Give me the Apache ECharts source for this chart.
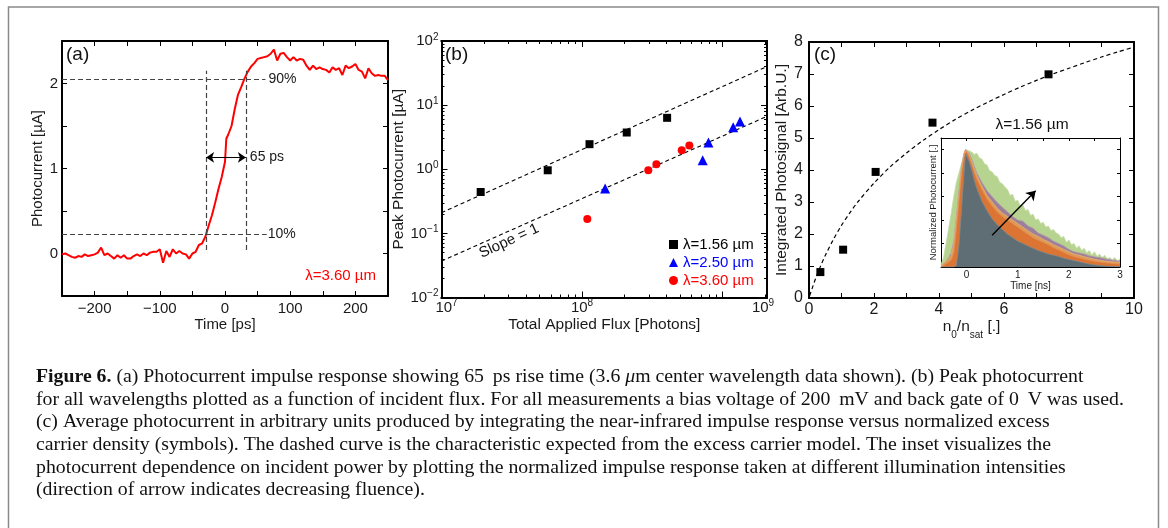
<!DOCTYPE html>
<html><head><meta charset="utf-8">
<script src="https://cdn.jsdelivr.net/npm/echarts@6/dist/echarts.min.js"></script>
<style>html,body{margin:0;padding:0;background:#fff}#c{width:1168px;height:528px}</style>
</head><body><div id="c"></div>
<script>
// ---------- Panel (a): impulse response ----------
const timeA = [-250,-245,-240,-235,-230,-225,-220,-215,-210,-205,-200,-195,-190,-185,-180,-175,-170,-165,-160,-155,-150,-145,-140,-135,-130,-125,-120,-115,-110,-105,-100,-95,-90,-85,-80,-75,-70,-65,-60,-55,-50,-45,-40,-35,-30,-25,-20,-15,-10,-5,0,2,5,10,15,20,25,30,35,40,45,50,55,60,65,70,75,80,85,90,95,100,105,110,115,120,125,130,135,140,145,150,155,160,165,170,175,180,185,190,195,200,205,210,215,220,225,230,235,240,245,250];
const currentA = [-0.01,0.0,-0.02,-0.04,-0.05,-0.03,-0.04,-0.01,-0.03,-0.02,-0.01,0.01,0.07,-0.02,0.0,-0.03,-0.06,-0.02,-0.05,-0.02,-0.06,-0.06,-0.03,-0.01,-0.03,0.0,-0.02,0.01,0.02,0.02,0.05,-0.11,0.03,-0.04,0.05,0.0,0.03,0.0,-0.01,-0.06,0.0,0.02,0.1,0.12,0.2,0.33,0.45,0.6,0.76,0.9,1.08,1.35,1.4,1.5,1.7,1.87,1.96,2.06,2.14,2.2,2.24,2.29,2.3,2.31,2.32,2.35,2.4,2.27,2.35,2.36,2.31,2.27,2.31,2.27,2.29,2.28,2.21,2.16,2.21,2.17,2.19,2.17,2.16,2.13,2.19,2.16,2.18,2.1,2.21,2.18,2.2,2.23,2.16,2.14,2.06,2.18,2.12,2.09,2.1,2.09,2.09,2.04];
const level90 = 2.05, level10 = 0.23;
const riseStart = -29, riseEnd = 32;

// ---------- Panel (b): peak photocurrent vs flux ----------
const seriesNamesB = ['λ=1.56 µm', 'λ=2.50 µm', 'λ=3.60 µm'];
const flux156 = [1.90e7, 5.70e7, 1.13e8, 2.08e8, 4.03e8];
const peak156 = [0.442, 0.964, 2.46, 3.74, 6.34];
const flux250 = [1.46e8, 7.22e8, 7.93e8, 1.19e9, 1.33e9];
const peak250 = [0.499, 1.38, 2.61, 4.53, 5.56];
const flux360 = [1.09e8, 2.96e8, 3.38e8, 5.12e8, 5.80e8];
const peak360 = [0.167, 0.964, 1.20, 1.98, 2.35];
const fitX = [1e7, 2.07e9];
const fitUpperY = [0.21, 40];
const fitLowerY = [0.037, 6.7];
const fluxMin = 1e7, fluxMax = 2.07e9;
const fluxMajor = [1e7, 1e8, 1e9];
const fluxMinor = [2e7,3e7,4e7,5e7,6e7,7e7,8e7,9e7,2e8,3e8,4e8,5e8,6e8,7e8,8e8,9e8,2e9];
const fluxLabels = [1e7, 1e8, 2.07e9];
const peakMajor = [0.01, 0.1, 1, 10, 100];
const peakMinor = [0.02,0.03,0.04,0.05,0.06,0.07,0.08,0.09,0.2,0.3,0.4,0.5,0.6,0.7,0.8,0.9,2,3,4,5,6,7,8,9,20,30,40,50,60,70,80,90];

// ---------- Panel (c): integrated photosignal ----------
const nRatio = [0.35, 1.05, 2.05, 3.80, 7.37];
const signalC = [0.81, 1.51, 3.94, 5.48, 6.99];
const modelX = [0.02,0.1,0.2,0.35,0.5,0.75,1,1.25,1.5,2,2.5,3,3.5,4,4.5,5,5.5,6,6.5,7,7.5,8,8.5,9,9.5,10];
const modelY = [0.07,0.31,0.6,0.98,1.33,1.83,2.27,2.65,3.0,3.59,4.1,4.53,4.92,5.26,5.58,5.86,6.12,6.36,6.59,6.8,7.0,7.18,7.36,7.53,7.69,7.84];

// ---------- Inset: normalized impulse responses ----------
const tInset = [-0.5,-0.45,-0.4,-0.35,-0.3,-0.25,-0.2,-0.15,-0.1,-0.05,-0.02,0,0.05,0.1,0.15,0.2,0.3,0.4,0.5,0.6,0.7,0.8,0.9,1.0,1.1,1.2,1.3,1.4,1.5,1.6,1.7,1.8,1.9,2.0,2.1,2.2,2.3,2.4,2.5,2.6,2.7,2.8,2.9,3.0];
const respGray   = [0,0,0,0,0,0,0.01,0.18,0.48,0.8,0.97,0.98,0.9,0.83,0.74,0.67,0.56,0.48,0.41,0.36,0.32,0.28,0.25,0.22,0.2,0.18,0.16,0.14,0.125,0.11,0.1,0.09,0.075,0.065,0.055,0.045,0.035,0.025,0.018,0.012,0.008,0.006,0.004,0.003];
const respOrange = [0,0.01,0.03,0.04,0.06,0.12,0.32,0.56,0.8,0.95,1.0,0.99,0.94,0.88,0.81,0.75,0.66,0.58,0.52,0.47,0.43,0.40,0.37,0.34,0.31,0.28,0.25,0.23,0.21,0.19,0.165,0.145,0.125,0.105,0.09,0.078,0.067,0.058,0.05,0.043,0.037,0.032,0.028,0.025];
const respTan    = [0.01,0.03,0.05,0.07,0.1,0.2,0.4,0.62,0.84,0.97,1.0,1.0,0.96,0.9,0.84,0.78,0.69,0.61,0.555,0.5,0.46,0.43,0.4,0.37,0.34,0.31,0.28,0.26,0.235,0.215,0.19,0.17,0.15,0.13,0.11,0.1,0.088,0.077,0.066,0.058,0.051,0.046,0.042,0.04];
const respPurple = [0.01,0.03,0.05,0.08,0.12,0.22,0.42,0.64,0.85,0.97,1.0,1.0,0.97,0.92,0.86,0.8,0.72,0.65,0.6,0.55,0.51,0.47,0.43,0.4,0.39,0.35,0.33,0.29,0.27,0.25,0.22,0.2,0.18,0.15,0.13,0.12,0.11,0.095,0.086,0.08,0.07,0.062,0.057,0.05];
const tGreen = [-0.5,-0.45,-0.4,-0.35,-0.3,-0.25,-0.2,-0.15,-0.1,-0.05,0,0.05,0.1,0.15,0.2,0.25,0.3,0.35,0.4,0.45,0.5,0.55,0.6,0.65,0.7,0.75,0.8,0.85,0.9,0.95,1.0,1.05,1.1,1.15,1.2,1.25,1.3,1.35,1.4,1.45,1.5,1.55,1.6,1.65,1.7,1.75,1.8,1.85,1.9,1.95,2.0,2.05,2.1,2.15,2.2,2.25,2.3,2.35,2.4,2.45,2.5,2.55,2.6,2.65,2.7,2.75,2.8,2.85,2.9,2.95,3.0];
const respGreen = [0.02,0.08,0.2,0.33,0.46,0.6,0.72,0.8,0.88,0.95,1.0,0.99,0.98,0.96,0.97,0.93,0.92,0.88,0.87,0.82,0.81,0.78,0.77,0.72,0.71,0.68,0.66,0.61,0.62,0.56,0.57,0.52,0.53,0.48,0.49,0.44,0.45,0.4,0.41,0.37,0.38,0.34,0.35,0.31,0.32,0.29,0.28,0.25,0.26,0.21,0.23,0.19,0.2,0.16,0.18,0.14,0.16,0.12,0.14,0.1,0.13,0.09,0.11,0.08,0.1,0.07,0.08,0.06,0.08,0.05,0.07];
const arrowFrom = [0.5, 0.27], arrowTo = [1.35, 0.65];

// ---------- helpers ----------
const F = 'Liberation Sans, Arial, Helvetica, sans-serif';
const SERIF = 'Liberation Serif, Times New Roman, serif';
const zip = (a, b) => a.map((v, i) => [v, b[i]]);
const axLine = (w) => ({show: true, onZero: false, lineStyle: {color: '#000', width: w}});
const tick = (len, extra) => Object.assign({show: true, inside: true, length: len, lineStyle: {color: '#000', width: 1}}, extra || {});
const noLabel = {show: false};
const nameStyle = (fs) => ({fontSize: fs, fontFamily: F, color: '#1a1a1a'});
const minus = (v) => (v < 0 ? '\u2212' + (-v) : '' + v);
const supRich = {
  b: {fontSize: 15, fontFamily: F, color: '#1a1a1a', lineHeight: 18},
  s: {fontSize: 10, fontFamily: F, color: '#1a1a1a', verticalAlign: 'top'},
  p: {width: 10}, q: {width: 8}
};
const powLabel = (v) => { const e = Math.round(Math.log10(v)); return '{b|10}{s|' + minus(e) + '}'; };

function valAxis(grid, pos, min, max, interval, o) {
  return Object.assign({gridIndex: grid, type: 'value', position: pos, min, max, interval,
    axisLine: axLine(2), axisTick: tick(5), splitLine: {show: false}, axisLabel: noLabel}, o || {});
}
function logAxis(grid, pos, min, max, ticks, len, o) {
  return Object.assign({gridIndex: grid, type: 'log', logBase: 10, position: pos, min, max,
    axisLine: axLine(2), axisTick: tick(len, {customValues: ticks}), splitLine: {show: false},
    minorTick: {show: false}, axisLabel: noLabel}, o || {});
}

const xAxes = [
  // (a)
  valAxis(0, 'bottom', -250, 250, 50, {
    axisLabel: {show: true, fontSize: 15, fontFamily: F, color: '#1a1a1a', margin: 5,
      formatter: v => (v % 100 === 0 ? minus(v) : '')},
    name: 'Time [ps]', nameLocation: 'middle', nameGap: 20, nameTextStyle: nameStyle(15)}),
  valAxis(0, 'top', -250, 250, 50),
  // (b)
  logAxis(1, 'bottom', fluxMin, fluxMax, fluxMajor, 6, {
    axisLabel: {show: true, customValues: fluxLabels, margin: 1, rich: supRich,
      formatter: v => (v < 5e7 ? '{p|}' + powLabel(v) : v < 5e8 ? powLabel(v) : '{b|10}{s|9}{q|}')},
    name: 'Total Applied Flux [Photons]', nameLocation: 'middle', nameGap: 19, nameTextStyle: nameStyle(15.5)}),
  logAxis(1, 'bottom', fluxMin, fluxMax, fluxMinor, 3),
  logAxis(1, 'top', fluxMin, fluxMax, fluxMajor, 6),
  logAxis(1, 'top', fluxMin, fluxMax, fluxMinor, 3),
  // (c)
  valAxis(2, 'bottom', 0, 10, 1, {
    axisLabel: {show: true, fontSize: 16, fontFamily: F, color: '#1a1a1a', margin: 4,
      formatter: v => (v % 2 === 0 ? '' + v : '')},
    name: '{t|n}{s|0}{t|/n}{s|sat}{t| [.]}', nameLocation: 'middle', nameGap: 10,
    nameTextStyle: {rich: {
      t: {fontSize: 15.5, fontFamily: F, color: '#1a1a1a', lineHeight: 26, verticalAlign: 'middle'},
      s: {fontSize: 10, fontFamily: F, color: '#1a1a1a', verticalAlign: 'bottom'}}}}),
  valAxis(2, 'top', 0, 10, 1),
  // inset
  valAxis(3, 'bottom', -0.5, 3, 0.5, {axisLine: axLine(1), axisTick: tick(3),
    axisLabel: {show: true, fontSize: 10, fontFamily: F, color: '#1a1a1a', margin: 3,
      formatter: v => (Math.abs(v - Math.round(v)) < 1e-9 ? '' + Math.round(v) : '')},
    name: 'Time [ns]', nameLocation: 'middle', nameGap: 12, nameTextStyle: nameStyle(10)}),
  valAxis(3, 'top', -0.5, 3, 0.5, {axisLine: axLine(1), axisTick: tick(3)})
];

const yAxes = [
  // (a)
  valAxis(0, 'left', -0.5, 2.5, 0.5, {
    axisLabel: {show: true, fontSize: 15, fontFamily: F, color: '#1a1a1a', margin: 4,
      formatter: v => (Math.abs(v - Math.round(v)) < 1e-9 ? '' + Math.round(v) : '')},
    name: 'Photocurrent [µA]', nameLocation: 'middle', nameGap: 12, nameTextStyle: nameStyle(15)}),
  valAxis(0, 'right', -0.5, 2.5, 0.5),
  // (b)
  logAxis(1, 'left', 0.01, 100, peakMajor, 6, {
    axisLabel: {show: true, customValues: peakMajor, margin: 3, rich: supRich, formatter: powLabel},
    name: 'Peak Photocurrent [µA]', nameLocation: 'middle', nameGap: 29, nameTextStyle: nameStyle(15.5)}),
  logAxis(1, 'left', 0.01, 100, peakMinor, 3),
  logAxis(1, 'right', 0.01, 100, peakMajor, 6),
  logAxis(1, 'right', 0.01, 100, peakMinor, 3),
  // (c)
  valAxis(2, 'left', 0, 8, 1, {
    axisLabel: {show: true, fontSize: 16, fontFamily: F, color: '#1a1a1a', margin: 6},
    name: 'Integrated Photosignal [Arb.U.]', nameLocation: 'middle', nameGap: 19, nameTextStyle: nameStyle(15.5)}),
  valAxis(2, 'right', 0, 8, 1),
  // inset
  valAxis(3, 'left', 0, 1.1, 0.2, {axisLine: axLine(1), axisTick: tick(3),
    name: 'Normalized Photocurrent [.]', nameLocation: 'middle', nameGap: 3, nameTextStyle: nameStyle(9.5)}),
  valAxis(3, 'right', 0, 1.1, 0.2, {axisLine: axLine(1), axisTick: tick(3)})
];

const dashA = {color: '#444', width: 1.2, type: [5, 3]};
const areaSeries = (name, t, v, color, edge) => ({
  name, type: 'line', xAxisIndex: 8, yAxisIndex: 8, data: zip(t, v), symbol: 'none', silent: true,
  lineStyle: {color: edge, width: 0.8}, areaStyle: {color, opacity: 1}
});

const captionLines = [
  '{b|Figure 6.} (a) Photocurrent impulse response showing 65\u2009 ps rise time (3.6 {i|\u03bc}m center wavelength data shown). (b) Peak photocurrent',
  'for all wavelengths plotted as a function of incident flux. For all measurements a bias voltage of 200\u2009 mV and back gate of 0\u2009 V was used.',
  '(c) Average photocurrent in arbitrary units produced by integrating the near-infrared impulse response versus normalized excess',
  'carrier density (symbols). The dashed curve is the characteristic expected from the excess carrier model. The inset visualizes the',
  'photocurrent dependence on incident power by plotting the normalized impulse response taken at different illumination intensities',
  '(direction of arrow indicates decreasing fluence).'
];
const CAP = 19.8;

const option = {
  animation: false,
  backgroundColor: '#fff',
  grid: [
    {left: 62, top: 41, width: 326, height: 255, outerBoundsMode: 'none'},
    {left: 441.5, top: 41, width: 325.5, height: 256.5, outerBoundsMode: 'none'},
    {left: 809, top: 42, width: 325, height: 256, outerBoundsMode: 'none'},
    {left: 941, top: 138, width: 179, height: 129, outerBoundsMode: 'none', show: true, backgroundColor: '#fff', borderWidth: 0}
  ],
  xAxis: xAxes,
  yAxis: yAxes,
  legend: {
    left: 664, top: 232, orient: 'vertical', itemGap: 3, itemWidth: 9, itemHeight: 9,
    textStyle: {fontSize: 15, fontFamily: F},
    data: [
      {name: seriesNamesB[0], textStyle: {color: '#000'}},
      {name: seriesNamesB[1], textStyle: {color: '#0000ff'}},
      {name: seriesNamesB[2], textStyle: {color: '#ff0000'}}
    ]
  },
  series: [
    {
      name: 'impulse', type: 'line', xAxisIndex: 0, yAxisIndex: 0, data: zip(timeA, currentA),
      symbol: 'none', lineStyle: {color: '#ff0000', width: 2}, silent: true, z: 3,
      markLine: {
        silent: true, symbol: ['none', 'none'], animation: false,
        label: {show: false},
        data: [
          [{coord: [-250, level90], lineStyle: dashA,
            label: {show: true, position: 'end', formatter: '90%', fontSize: 14, fontFamily: F, color: '#1a1a1a', distance: 3}},
           {coord: [62, level90]}],
          [{coord: [-250, level10], lineStyle: dashA,
            label: {show: true, position: 'end', formatter: '10%', fontSize: 14, fontFamily: F, color: '#1a1a1a', distance: 1}},
           {coord: [64, level10]}],
          [{coord: [riseStart, 0.04], lineStyle: dashA}, {coord: [riseStart, 2.15]}],
          [{coord: [riseEnd, 0.04], lineStyle: dashA}, {coord: [riseEnd, 2.15]}],
          [{coord: [riseStart, 1.13], symbol: 'arrow', symbolSize: 8, lineStyle: {color: '#000', width: 1.2, type: 'solid'},
            label: {show: true, position: 'end', formatter: '65 ps', fontSize: 14, fontFamily: F, color: '#1a1a1a', distance: 4}},
           {coord: [riseEnd, 1.13], symbol: 'arrow', symbolSize: 8}]
        ]
      }
    },
    {name: 'fitUpper', type: 'line', xAxisIndex: 2, yAxisIndex: 2, data: zip(fitX, fitUpperY), symbol: 'none', silent: true,
      lineStyle: {color: '#000', width: 1.1, type: [4, 3]}},
    {name: 'fitLower', type: 'line', xAxisIndex: 2, yAxisIndex: 2, data: zip(fitX, fitLowerY), symbol: 'none', silent: true,
      lineStyle: {color: '#000', width: 1.1, type: [4, 3]}},
    {name: seriesNamesB[0], type: 'scatter', xAxisIndex: 2, yAxisIndex: 2, data: zip(flux156, peak156),
      symbol: 'rect', symbolSize: 8, itemStyle: {color: '#000', opacity: 1}, z: 4},
    {name: seriesNamesB[1], type: 'scatter', xAxisIndex: 2, yAxisIndex: 2, data: zip(flux250, peak250),
      symbol: 'triangle', symbolSize: 10, itemStyle: {color: '#0000ff', opacity: 1}, z: 4},
    {name: seriesNamesB[2], type: 'scatter', xAxisIndex: 2, yAxisIndex: 2, data: zip(flux360, peak360),
      symbol: 'circle', symbolSize: 8, itemStyle: {color: '#ff0000', opacity: 1}, z: 4},
    {name: 'model', type: 'line', xAxisIndex: 6, yAxisIndex: 6, data: zip(modelX, modelY), symbol: 'none', smooth: 0.3, silent: true,
      lineStyle: {color: '#000', width: 1.2, type: [4, 3]}},
    {name: 'signal', type: 'scatter', xAxisIndex: 6, yAxisIndex: 6, data: zip(nRatio, signalC),
      symbol: 'rect', symbolSize: 8, itemStyle: {color: '#000', opacity: 1}, z: 4},
    areaSeries('green', tGreen, respGreen, '#b6d38f', '#c3dca0'),
    areaSeries('purple', tInset, respPurple, '#9e7f9b', '#b195ad'),
    areaSeries('tan', tInset, respTan, '#dc9b55', '#e8b273'),
    areaSeries('orange', tInset, respOrange, '#dc7433', '#e69055'),
    Object.assign(areaSeries('gray', tInset, respGray, '#5f6d74', '#7d8a90'), {
      markLine: {silent: true, symbol: ['none', 'arrow'], symbolSize: 9, label: {show: false},
        lineStyle: {color: '#000', width: 1.4, type: 'solid'},
        data: [[{coord: arrowFrom}, {coord: arrowTo}]]}
    })
  ],
  graphic: [
    {type: 'rect', silent: true, z: 0, shape: {x: 8.5, y: 7, width: 1150, height: 540},
      style: {fill: 'none', stroke: '#8a8a8a', lineWidth: 1.5}},
    {type: 'text', x: 66, y: 55, style: {text: '(a)', fontSize: 19, fontFamily: F, fill: '#111', verticalAlign: 'middle'}},
    {type: 'text', x: 445, y: 55, style: {text: '(b)', fontSize: 19, fontFamily: F, fill: '#111', verticalAlign: 'middle'}},
    {type: 'text', x: 814, y: 55, style: {text: '(c)', fontSize: 19, fontFamily: F, fill: '#111', verticalAlign: 'middle'}},
    {type: 'text', x: 376, y: 276, style: {text: 'λ=3.60 µm', fontSize: 15, fontFamily: F, fill: '#ff0000', align: 'right', verticalAlign: 'middle'}},
    {type: 'text', x: 1032, y: 125, style: {text: 'λ=1.56 µm', fontSize: 15.5, fontFamily: F, fill: '#111', align: 'center', verticalAlign: 'middle'}},
    {type: 'text', x: 509, y: 241, rotation: Math.atan(64 / 140.5),
      style: {text: 'Slope = 1', fontSize: 15, fontFamily: F, fill: '#111', align: 'center', verticalAlign: 'middle'}},
    ...captionLines.map((t, i) => ({
      type: 'text', x: 36, y: 377 + i * 22.6,
      style: {text: t, fontSize: CAP, fontFamily: SERIF, fill: '#111', verticalAlign: 'middle',
        rich: {
          b: {fontSize: CAP, fontFamily: SERIF, fontWeight: 'bold', fill: '#111'},
          i: {fontSize: CAP, fontFamily: SERIF, fontStyle: 'italic', fill: '#111'}
        }}
    }))
  ]
};

const chart = echarts.init(document.getElementById('c'), null, {renderer: 'canvas'});
chart.setOption(option);
</script>
</body></html>
